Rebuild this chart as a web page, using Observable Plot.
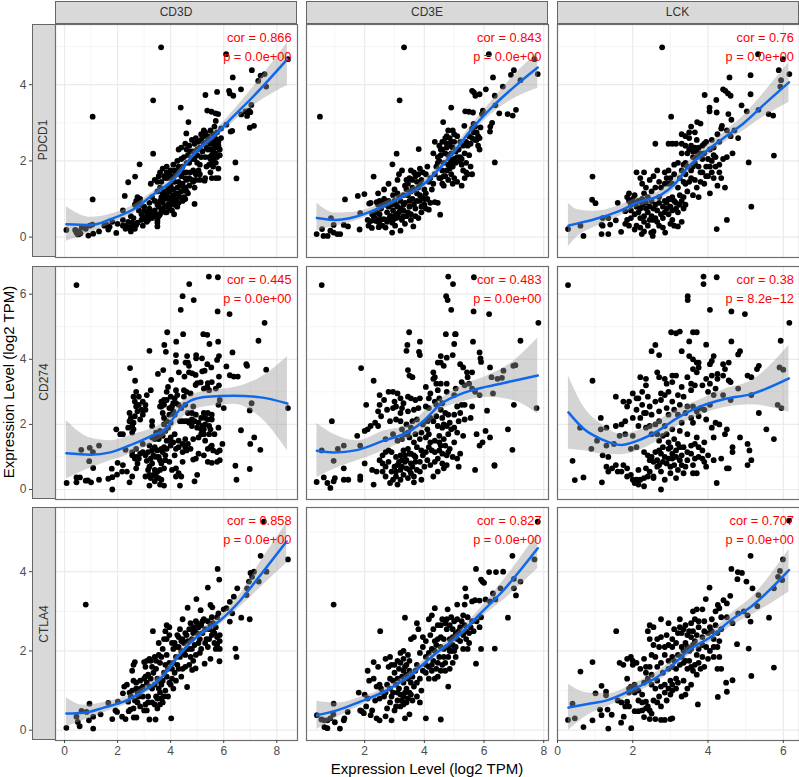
<!DOCTYPE html>
<html><head><meta charset="utf-8">
<script src="https://cdn.jsdelivr.net/npm/d3@7"></script>
<script src="https://cdn.jsdelivr.net/npm/@observablehq/plot@0.6"></script>
<style>
html,body{margin:0;padding:0;background:#fff;overflow:hidden}
#chart{position:relative;width:799px;height:777px;font-family:"Liberation Sans",Arial,sans-serif}
.strip{position:absolute;box-sizing:border-box;background:#d9d9d9;border:1.2px solid #666;color:#333;font-size:12px;display:flex;align-items:center;justify-content:center}
.strip.side span{transform:rotate(-90deg);white-space:nowrap}
.title{position:absolute;font-size:15px;color:#000;white-space:nowrap}
</style></head><body><div id="chart"></div>
<script>
const columnGenes = ["CD3D","CD3E","LCK"];
const rowGenes = ["PDCD1","CD274","CTLA4"];
const corLabels = ["cor = 0.866","cor = 0.843","cor = 0.76","cor = 0.445","cor = 0.483","cor = 0.38","cor = 0.858","cor = 0.827","cor = 0.707"];
const pLabels = ["p = 0.0e+00","p = 0.0e+00","p = 0.0e+00","p = 0.0e+00","p = 0.0e+00","p = 8.2e\u221212","p = 0.0e+00","p = 0.0e+00","p = 0.0e+00"];

const xDomains = [[-0.34,8.78],[0.05,8.16],[0,6.43]];
const yDomains = [[-0.535,5.58],[-0.307,6.85],[-0.26,5.62]];
const xTicks = [[0,2,4,6,8],[2,4,6,8],[0,2,4,6]];
const xMinor = [[1,3,5,7],[1,3,5,7],[1,3,5]];
const yTicks = [[0,2,4],[0,2,4,6],[0,2,4]];
const yMinor = [[1,3,5],[1,3,5],[1,3,5]];

// scatter points: [x, y]
const pdcd1Cd3d = [[3.64,4.98],[6.09,4.8],[8.42,4.67],[7.06,4.38],[6.34,4.19],[7.39,4.24],[7.54,4.28],[7.3,4.1],[7.6,3.95],[3.34,3.59],[1.06,3.16],[1.06,.99],[4.38,3.4],[5.75,3.81],[5.31,3.73],[6.2,3.84],[6.23,3.77],[6.36,3.71],[6.65,3.88],[5.38,3.32],[5.54,3.29],[5.69,3.25],[5.79,3.23],[7.04,3.47],[6.95,3.32],[6.82,3.3],[6.66,3.22],[6.88,3.18],[7.0,3.28],[7.14,2.92],[6.98,2.87],[6.32,2.79],[6.26,2.77],[6.44,1.96],[6.48,1.54],[4.9,.87],[3.34,2.19],[2.83,1.91],[2.66,1.59],[2.4,1.44],[2.27,1.08],[4.13,.6],[4.67,3.02],[4.59,2.72],[5.28,1.48],
[.07,.19],[.4,.19],[.45,.12],[.5,.07],[.55,.08],[.6,.1],[.45,.17],[.9,.04],[1.08,.09],[.8,.22],[.95,.3],[1.05,.33],[1.3,.15],[1.65,.2],[1.7,.27],[1.95,.11],[1.8,.4],[2,.35],[2.2,.3],[2.3,.22],[2.35,.3],[2.45,.25],[2.5,.15],[2.6,.3],[2.7,.32],[2.65,.22],[2.75,.38],[2.9,.45],[3.1,.4],[3.1,.55],[3.15,.45],[3.3,.5],[3.5,.28],[3.5,.38],[3.5,.44],[3.55,.55],[2.2,.7],[2.5,.55],[2.6,.5],[2.8,.7],[2.85,.85],[2.7,.95],[2.65,.85],[2.75,1.05],[2.85,1],[3,.8],[3,.7],[3.1,.65],[3.2,.75],[3.2,.9],[3.3,.65],[3.3,1.05],[3.4,.95],[3.4,.7],[3.5,.85],[3.5,1.2],[3.5,1.45],[3.25,1.4],[3.4,1.5],[3.6,1.3],[3.65,.7],[3.7,.9],[3.7,1.15],[3.75,1],[3.8,.8],[3.85,.65],[3.9,1],[3.95,.75],[3.95,1.2],[4,1.35],[4.05,.95],[4.1,1.1],[4.15,.85],[4.2,1.15],[4.25,1.3],[4.3,.9],[4.35,1.05],[4.4,1.2],[4.45,1.4],[4.5,1.05],[3.6,1.7],[3.7,1.8],[3.8,1.55],[3.85,1.85],[3.95,1.65],[4,1.75],[4.05,1.55],[4.1,1.9],[4.2,1.65],[4.25,2],[4.3,1.45],[4.35,1.75],[4.4,1.6],[4.4,2.05],[4.5,1.7],[4.55,1.3],[4.6,1.5],[4.65,1.15],[4.7,1.35],[4.7,1.95],[4.75,1.7],[4.8,1.5],[4.85,1.75],[4.9,1.3],[4.95,1.65],[5,1.95],[5.1,1.5],[5.15,2.1],[4.5,2.1],[4.4,2.35],[4.3,2.3],[4.55,2.45],[4.7,2.4],[4.85,2.25],[4.9,2.45],[4.95,2.6],[5,2.15],[5.1,2.35],[5.15,2.55],[5.25,2.65],[5.3,2.75],[5.35,2.5],[5.4,2.3],[5.45,2.1],[5.5,2.45],[5.55,1.95],[5.6,2.25],[5.65,2.65],[5.7,2.35],[5.75,2.1],[5.8,2.5],[5.85,2.3],[5.9,2.6],[5.9,2.85],[5.7,3.05],[5.65,2.9],[5.5,2.8],[5.35,1.85],[5.5,1.7],[5.55,1.55],[5.7,1.55],[5.8,1.55],[5.8,1.8],[5.3,1.55],[5.1,1.65],[6.1,2.95],
[2.9,.6],[2.95,.5],[3.05,.5],[3.15,.6],[3.25,.55],[3.35,.55],[3.45,.6],[3.6,.6],[3.7,.75],[3.8,.65],[3.9,.85],[4,.85],[4.05,.7],[4.15,.95],[3.55,.8],[3.6,.95],[3.65,1.05],[3.75,1.2],[3.85,1.1],[3.9,1.3],[4,1.05],[4.1,1.25],[4.2,1],[4.25,.8],[4.3,1.15],[4.45,.95],[4.55,1],[4.6,1.2],[4.5,1.25],[4.35,1.35],[4.15,1.45],[4.05,1.6],[3.9,1.55],[3.75,1.6],[3.65,1.45],[3.55,1.6],[3.85,1.7],[4.15,1.75],[4.3,1.85],[4.45,1.85],[4.55,1.55],[4.6,1.7],[4.6,1.95],[4.7,1.55],[4.85,1.45],[4.95,1.5],[5.05,1.75],[5.1,1.9],[4.65,2.15],[4.75,2.25],[4.8,2.05],[4.9,2.05],[5,2.3],[5.05,2.5],[5.2,2.25],[5.25,2.45],[5.3,2.1],[5.35,2.35],[5.45,2.55],[5.5,2.3],[5.55,2.15],[5.6,2.5],[5.6,2.05],[5.65,2.4],[5.7,2.2],[5.75,2.55],[5.8,2.4],[5.85,2.15],[5.45,1.9],[5.5,2.05],[5.6,1.85],[5.7,1.95],[5.25,2.8],[5.15,2.7],[5.4,2.65],[5.6,2.7],[5.75,2.75],[4.6,2.3],[4.8,2.55],[2.95,.3],[2.4,.4],[2.2,.45],[2.55,.38],[1.5,.3],[1.6,.32],[.5,.13],[.55,.13],[.65,.25]];

const pdcd1Cd3e = [[3.32,4.98],[6.16,4.8],[7.69,4.67],[7.8,4.28],[7,4.38],[6.9,4.26],[7.22,4.12],[6.3,4.19],[6.63,3.95],[6.06,3.88],[5.6,3.84],[5.66,3.8],[5.71,3.71],[5.85,3.75],[6.36,3.71],[3.17,3.59],[.5,3.16],[4.9,3.4],[6.38,3.46],[5.96,3.32],[5.93,3.23],[5.37,3.3],[5.49,3.29],[5.63,3.27],[6.51,3.25],[6.79,3.23],[6.96,3.19],[7.07,3.34],[4.63,3.02],[5.34,2.92],[5.65,2.97],[6.27,3],[6.21,2.9],[6.2,2.77],[6.36,1.96],[5.88,2.88],[5.75,2.75],[5.85,2.6],[5.8,2.65],[3.81,2.31],[3.07,2.19],[2.93,1.91],[2.3,1.59],[1.77,1.08],[1.99,1.13],[1.34,.99],[4.53,.59],[3.63,.28],
[.39,.08],[.57,.21],[.62,.03],[.76,.03],[.85,.17],[.96,.12],[1.08,.08],[1.18,.08],[.87,.5],[.96,.32],[1.3,.32],[1.44,.28],[1.85,.63],[1.83,.2],[2.13,.3],[2.24,.24],[2.47,.26],[2.53,.47],[2.36,.43],[2.64,.47],[2.92,.12],[3.2,.17],[3.02,.3],[2.92,.38],[3.13,.52],[2.8,.47],[2.2,.42],[2.3,.55],[2.4,.65],[2.5,.6],[2.55,.75],[2.6,.88],[2.65,1],[2.45,.85],[2.4,.92],[2.2,.9],[2.15,.88],[2.75,.65],[2.8,.8],[2.9,.55],[2.95,.7],[3,.95],[3.05,.6],[3.1,.8],[3.15,1.05],[3.25,.45],[3.3,.7],[3.35,.9],[3.4,.55],[3.45,1.1],[3.5,.8],[3.55,.6],[3.6,1],[3.7,.75],[3.75,1.15],[3.8,.5],[3.85,.95],[3.9,.65],[3.95,1.05],[4,.85],[4.05,.75],[4.1,1],[4.15,.72],[4.2,.9],[4.35,.92],[4.45,.9],[2.45,1.15],[2.65,1.25],[2.8,1.4],[3,1.25],[3.1,1.5],[3.15,1.65],[3.25,1.75],[3.35,1.35],[3.45,1.4],[3.5,1.55],[3.55,1.75],[3.6,1.3],[3.7,1.6],[3.75,1.45],[3.8,1.3],[3.9,1.5],[3.95,1.7],[4,1.25],[4.05,1.65],[4.1,1.85],[4.3,1.4],[4.35,1.65],[4.4,1.85],[4.45,1.95],[4.5,2],[4.55,2.15],[4.6,1.75],[4.65,1.95],[4.7,2.2],[4.75,2.45],[4.3,2.2],[4.35,2.5],[4.8,1.5],[4.9,1.65],[4.95,1.4],[5,1.55],[5.1,1.45],[5.25,1.35],[5.35,1.55],[5.4,1.7],[5.45,1.65],[5.55,1.85],[5.6,1.65],[4.8,1.9],[4.85,2.05],[4.9,2.2],[4.95,2.35],[5,2.5],[5,2.7],[4.75,2.65],[4.8,2.8],[4.85,2.6],[5.05,1.95],[5.1,2.1],[5.15,2.3],[5.2,2.5],[5.25,2.05],[5.35,2.2],[5.4,1.95],[5.45,2.4],[5.5,2.15],[5.3,2.4],[4.6,2.3],[4.5,2.4],[5.55,2.45],[5.6,2.6],[5.65,2.75],[5.7,2.55],[4.55,1.55],[4.7,1.6],[4.65,1.35],[4.2,1.55],
[2.1,.45],[2.25,.6],[2.35,.5],[2.45,.4],[2.5,.35],[2.6,.3],[2.7,.25],[2.75,.4],[2.85,.55],[2.95,.45],[3.05,.5],[3.15,.65],[3.2,.75],[3.3,.55],[3.35,.35],[3.45,.65],[3.5,.95],[3.55,.45],[3.65,.85],[3.7,.55],[3.75,.95],[3.85,1.1],[3.9,.8],[4,1],[4.05,1.15],[3.3,.85],[3.2,.95],[3.05,.85],[2.9,.85],[2.7,.85],[2.8,.95],[2.5,.95],[2.55,.85],[2.95,1.1],[3.1,1.15],[3.3,1.1],[3.4,1.25],[3.55,1.2],[3.65,1.25],[3.85,1.4],[3.4,1.5],[3.6,1.5],[3.65,1.7],[3.8,1.65],[3.85,1.8],[4.15,1.45],[4.25,1.25],[4.5,1.55],[4.6,1.4],[4.65,1.6],[4.75,1.75],[4.85,1.8],[4.9,1.95],[4.95,1.85],[5,2.05],[5.05,2.25],[5.15,2],[4.45,2.1],[4.55,2.3],[4.6,2.5],[4.7,2.6],[4.75,2.35],[4.8,2.15],[4.85,2.4],[4.9,2.5],[4.95,2.8],[5.1,2.65],[5.2,2.1],[5.25,1.9],[5.3,1.75],[5.4,2.5],[5.5,2.65],[5.6,2.85],[5.7,2.9],[5.75,2.55],[5.8,2.4],[5.85,2.3]];

const pdcd1Lck = [[2.78,4.98],[5.33,4.8],[5.99,4.67],[5.88,4.38],[6.16,4.28],[5.94,4.12],[5.92,3.95],[5.13,4.25],[4.57,4.19],[5.13,3.75],[4.4,3.88],[4.46,3.84],[4.53,3.77],[4.6,3.71],[3.91,3.73],[4.22,3.6],[4.89,3.46],[4.04,3.4],[4.04,3.3],[4.23,3.27],[4.54,3.23],[5.03,3.3],[5.34,3.34],[5.61,3.23],[5.73,3.19],[3.02,3.16],[4.62,3.08],[3.71,3.02],[3.8,2.98],[4.37,2.92],[5.75,2.14],[5.08,1.96],[5.15,.8],[4.5,.45],[4.23,.21],[.93,1.59],[.92,.98],[1.01,.89],[.28,.21],[.69,.03],[.61,.3],[1.17,.08],[1.35,.08],[1.69,.14],[2.24,.08],[2.53,.03],[2.49,.12],[2.86,.12],[1.17,.33],[1.2,.5],[1.35,.5],[1.2,.3],[1.4,.33],[1.55,.44],[1.6,.9],[1.8,.68],[1.85,.45],[1.9,.3],[1.95,.5],[1.8,.35],[2.05,.2],[2.1,.3],[2.2,.25],[2.3,.15],[2.4,.3],[2.55,.15],[2.7,.3],[2.8,.25],[3,.35],[3.1,.3],[3.2,.28],[3.3,.4],[3.05,.45],[2.8,.5],[2.6,.5],[2.5,.55],[2.4,.65],[2.3,.55],[2.2,.5],[2.05,.6],[1.95,.7],[2.1,.8],[1.9,1.15],[1.85,1.05],[2,1],[2.05,1.1],[2.15,.95],[2.25,1],[2.35,.9],[2.45,.8],[2.55,.75],[2.65,.7],[2.7,.9],[2.75,.6],[2.85,.95],[2.9,.75],[2.95,1],[3,.8],[3.05,1.05],[3.15,.9],[3.2,.65],[3.25,1.1],[3.35,1.05],[3.4,.85],[2.1,1.7],[2.2,1.55],[2.3,1.7],[2.25,1.4],[2.35,1.3],[2.45,1.5],[2.5,1.2],[2.55,1.6],[2.65,1.75],[2.7,1.45],[2.75,1.3],[2.9,1.55],[2.95,1.75],[3.05,1.4],[3.1,1.65],[3.2,1.3],[3.25,1.55],[3.35,1.9],[3.4,1.65],[3.45,1.2],[3.5,1.45],[3.55,1.75],[3.6,1.1],[3.65,1.5],[3.7,1.3],[3.75,1.05],[3.8,1.45],[3.85,1.7],[3.9,1.4],[3.95,1.85],[4,1.6],[4.05,1.15],[4.15,1.55],[4.25,1.35],[4.3,1.7],[4.35,1.55],[4.4,2.05],[4.45,1.3],[4.5,2.1],[4.65,2.2],[4.1,2],[4.2,2.1],[4.15,2.35],[4.3,2.5],[4.25,2.7],[4.05,2.3],[3.9,2.45],[3.8,2.2],[3.75,2.35],[3.7,2.55],[3.6,2.1],[3.55,2.4],[3.5,2.6],[3.45,2.2],[3.4,1.95],[3.3,2.45],[3.15,2.45],[3.05,2.45],[2.95,2.45],[2.6,2.45],[3.5,2.75],[3.65,2.75],[3.55,2.9],[3.4,2.65],[3.3,2.7],[4.6,2.65],[4.8,2.6],[4.35,2.85],[4.5,2.8],[4.7,2.8],
[1.9,.95],[1.95,.85],[2.05,.9],[2.2,.75],[2.25,.85],[2.35,.75],[2.4,1.05],[2.5,.95],[2.55,.45],[2.6,.85],[2.65,.4],[2.7,1.05],[2.8,.8],[2.85,.65],[2.9,.9],[2.95,.6],[3,1],[3.05,.7],[3.1,.95],[3.15,.75],[3.25,.85],[3.3,.95],[3.35,.75],[2.15,.65],[2.3,.4],[2.45,.45],[2.3,1.15],[2.6,1.3],[2.85,1.4],[3,1.55],[3.35,1.45],[3.3,1.75],[3.4,1.4],[3.45,1.85],[3.55,1.55],[3.6,1.85],[3.65,1.95],[3.7,2.1],[3.75,1.85],[3.8,1.7],[3.85,2.05],[3.9,2.2],[3.95,1.6],[4,2.05],[4.05,1.85],[4.1,1.7],[4.15,2.15],[4.2,1.85],[4.3,1.9],[3.6,2.25],[3.65,2.35],[3.7,2.25],[3.85,2.4],[3.95,2.5],[3.5,2.3],[3.4,2.4],[3.3,2.2],[4.1,2.55],[3.2,1.95],[3.1,1.9],[2.95,1.4],[2.85,1.7]];

const cd274Cd3d = [[.45,6.28],[5.44,6.54],[5.78,6.52],[4.7,6.31],[4.45,5.94],[4.87,5.82],[4.38,5.52],[5.77,5.47],[6.22,5.39],[7.54,5.12],[7.31,4.57],[3.87,4.83],[4.47,4.77],[5.23,4.77],[5.38,4.75],[4.21,4.54],[3.76,4.44],[5.46,4.47],[5.79,4.54],[3.2,4.26],[3.82,4.23],[4.2,4.13],[6.33,4.21],[4.62,4.1],[4.96,4.13],[4.96,4.03],[5.18,4.03],[5.82,4.1],[5.75,3.98],[4.2,3.92],[4.56,3.9],[4.65,3.9],[4.69,3.8],[6.85,3.85],[6.88,3.8],[5.38,3.85],[5.53,3.75],[6.1,3.78],[7.6,3.68],[2.47,3.73],[3.72,3.67],[3.52,3.55],[4.31,3.6],[4.69,3.6],[4.81,3.57],[4.94,3.52],[5.19,3.63],[5.28,3.65],[5.82,3.47],[4.52,3.47],[4.02,3.37],[2.66,3.34],[6.23,3.51],[6.38,3.47],[6.53,3.47],[5,3.27],[5.13,3.29],[4.94,3.21],[5.4,3.27],[5.55,3.3],[5.38,3.15],[5.82,3.2],[5.7,3.1],[3.9,3.15],[3.85,3],[3.25,3.05],[3.1,2.9],[2.7,3],[2.6,2.85],[2.65,2.7],[2.8,2.6],[2.95,2.7],[3.05,2.6],[2.9,2.45],[3.05,2.45],[2.75,2.4],[2.65,2.25],[2.5,2.2],[2.45,2.1],[2.85,2.15],[2.95,2.3],[3.3,2.1],[2.55,1.95],[2.6,1.85],[2.55,1.75],[2.4,1.9],[3.65,2.7],[3.75,2.6],[3.85,2.75],[3.95,2.5],[4,2.85],[4.15,2.8],[4.25,2.9],[3.6,2.55],[3.7,2.35],[3.75,2.2],[3.85,2.1],[3.95,2.3],[4.1,2.4],[4.3,2.6],[4.4,2.5],[4.5,2.85],[4.75,2.95],[4.85,2.55],[4.8,2.35],[4.8,2.15],[4.7,2.05],[4.55,2.1],[4.45,2.1],[4.35,2.1],[4.8,1.95],[5,1.9],[5.15,1.85],[5.3,2.2],[5.3,2],[5.4,2.35],[5.5,1.85],[5.55,2.3],[5.55,2.15],[5.65,1.7],[5.45,1.7],[5.25,1.7],[5.8,1.9],[5.8,2.6],[5.85,2.75],[6,2.5],[6.65,1.82],[7,1.4],[7.15,1.6],[6.98,2.43],[7.05,2.65],[8.42,2.5],[7.38,1.22],[6.98,.63],[6.44,.73],[6.48,.3],[3.3,1.95],[3.45,1.75],[3.55,1.55],[3.7,1.65],[3.85,1.5],[4,1.6],[4.15,1.7],[4.3,1.5],[4.55,1.55],[4.65,1.4],[4.85,1.55],[4.75,1.25],[4.45,1.15],[4.15,1.05],[4,1.35],[3.85,1.25],[3.7,1.15],[3.5,1.2],[3.35,1.05],[3.2,1.35],[2.95,1.4],[2.7,1.25],[2.85,1.1],[2.7,1],[2.55,1.15],[2.3,1.22],[2.2,1.7],[2.1,1.7],[1.95,1.85],[1.3,1.35],[.95,1.28],[.63,1.22],[1.07,1.15],[.93,.87],[1.08,.66],[.88,.28],[1,.22],[.8,.27],[.45,.37],[.45,.22],[.08,.2],[.58,.37],[1.3,.3],[1.65,.33],[1.8,.38],[1.98,.46],[2.17,.55],[1.78,.64],[2,.82],[2.2,.75],[2.35,.55],[2.45,.22],[2.55,.4],[1.8,0],[2.75,.8],[2.7,.65],[3.1,.88],[3.15,.6],[3.2,.45],[3.05,.4],[3.25,.35],[3.2,.12],[3.4,.25],[3.6,.15],[3.75,.12],[3.5,.55],[3.65,.8],[3.8,.9],[3.95,.85],[4.05,.6],[4.2,.65],[4.3,.5],[4.2,.4],[4.45,.85],[4.4,.4],[4.35,.12],[4.85,.92],[4.95,.95],[4.9,.25],[5,.45],[5.4,.85],[5.55,.82],[5.75,.85],[5.85,.9],[5.05,1.1],[5.25,1.05],[5.6,1.2],[5.75,1.15],[5.95,1.4],[5.85,1.2],
[2.55,1.05],[2.65,.95],[2.8,.95],[2.95,1.15],[3.05,1.05],[3.15,1.15],[3.25,.95],[3.3,1.2],[3.4,1.3],[3.45,1],[3.55,1],[3.6,.9],[3.65,1.25],[3.75,1.3],[3.4,.6],[3.3,.8],[3.2,.7],[3.35,.45],[3.45,.4],[3.55,.35],[3.65,.3],[3.6,.6],[3.75,.65],[3.8,1.05],[3.95,1.5],[4.1,1.45],[4.2,1.25],[4.3,1.3],[4.45,1.4],[4.55,1.3],[4.6,1.2],[3.4,1.55],[3.3,1.6],[3.5,1.65],[3.6,1.8],[3.8,1.8],[3.9,1.9],[3.75,2],[4,2.05],[4.05,2.55],[4.2,2.65],[4.1,2.65],[3.75,2.75],[3.65,2.55],[4.55,2.6],[4.65,2.35],[4.65,2.1],[4.9,2.1],[4.95,2.3],[5.05,2.05],[5.2,1.95],[5.15,2.2],[5.25,2.35],[5.4,2.15],[5.45,1.95],[5.25,3.1],[5.45,3.05],[4.5,3.05],[4.6,3],[4.2,3.05],[4.15,2.3],[5.15,1.7],[5.05,1.6],[5.3,1.5],[5.55,1.35],[5.5,1.3],[5.4,1.25],[5.25,1.85],[2.8,2.85],[2.7,2.55],[2.45,2.35],[2.6,2.05]];

const cd274Cd3e = [[.56,6.28],[4.8,6.54],[5.66,6.52],[4.96,6.31],[4.73,5.94],[4.78,5.82],[4.9,5.52],[5.65,5.47],[6.17,5.39],[7.82,5.12],[7.22,4.57],[3.49,4.83],[4.72,4.77],[5.03,4.77],[5.05,4.77],[3.85,4.54],[3.43,4.44],[5,4.47],[5.63,4.54],[3.4,4.26],[3.82,4.23],[3.85,4.13],[5.85,4.21],[4.55,4.1],[4.75,4.05],[4.95,4.13],[5.88,4.03],[5.9,3.92],[4.45,3.9],[4.55,3.9],[4.65,3.8],[5.2,3.85],[5.3,3.75],[5.43,3.6],[6.2,3.75],[6.65,3.65],[6.98,3.8],[7.05,3.82],[1.88,3.73],[3.45,3.67],[3.5,3.5],[3.6,3.45],[4.3,3.6],[4.35,3.45],[4.4,3.25],[4.55,3.25],[5.6,3.6],[5.45,3.45],[5.5,3.25],[5.25,3.3],[5.35,3.2],[6.25,3.45],[6.45,3.4],[6.6,3.43],[2.3,3.34],[4.05,3.15],[4.75,3.25],[5.6,3.1],[5.7,3],[5.85,2.9],[6.3,2.95],[7.76,2.5],[2.8,3],[2.95,3],[2.5,2.9],[2.65,2.75],[2.5,2.6],[2.45,2.4],[3.1,2.95],[3.2,2.8],[3.3,2.65],[3,2.7],[3.25,2.5],[3.45,2.4],[3.55,2.8],[3.7,2.75],[3.85,2.8],[3.8,2.5],[3.65,2.45],[4.15,2.8],[4.35,2.7],[4.15,2.5],[4.05,2.55],[5,2.9],[5.1,2.55],[5.35,2.6],[5.6,2.55],[6.1,2.42],[7,2.6],[2.05,2.6],[.9,2.1],[2.55,2.25],[2.35,2.05],[2.45,1.95],[2.2,1.95],[2.1,1.85],[2,1.8],[1.75,1.65],[1.85,1.35],[1.3,1.35],[1.1,1.25],[.56,1.2],[.96,.88],[1.3,.65],[.39,.23],[.63,.37],[.75,.2],[.85,.05],[.96,.25],[1,.35],[1.3,.3],[1.45,.3],[1.85,.3],[1.85,.4],[2,.8],[2.3,.15],[2.25,.6],[2.4,.55],[2.6,.55],[2.7,.7],[2.7,.4],[2.85,.2],[2.95,.3],[3.1,.15],[3.05,.4],[3.2,.6],[3.3,.45],[3.5,.6],[3.65,.22],[3.85,.55],[3.9,.3],[4.3,.4],[4.35,.85],[4.45,.55],[4.6,.8],[4.75,.75],[5.15,.7],[5.1,.95],[5.7,.6],[6.35,.73],[2.6,1.05],[2.8,.85],[2.9,1.15],[3.05,1],[3.15,.85],[3.2,1.05],[3.3,1.2],[3.4,.9],[3.5,1.1],[3.55,.8],[3.7,1],[3.85,.85],[4.05,1.15],[4.15,1.3],[4.25,1.2],[4.35,1.15],[4.5,1.2],[4.6,1.1],[4.75,1.05],[4.85,1.25],[5,1.45],[5.2,1.1],[2.7,1.55],[2.95,1.7],[3.1,1.5],[3.25,1.55],[3.35,1.7],[3.5,1.6],[3.65,1.45],[3.85,1.55],[4.05,1.6],[4.2,1.45],[4.5,1.65],[4.65,1.55],[4.8,1.7],[5,1.9],[5.1,1.75],[5.3,1.65],[3.05,2.15],[3.2,2.1],[3.4,2],[3.6,2.1],[4.1,2.1],[4.3,2.1],[4.45,1.95],[4.6,2.2],[4.8,2.3],[5,2.3],[5.2,2.35],[5.35,2.15],[5.55,2.2],[4.6,1.9],[4.75,1.95],[4.65,2],[5.75,1.7],[6.05,1.8],[6.2,1.6],[5.85,1.35],[5.95,1.45],[6.8,1.85],[6.95,1.22],[6.35,.75],
[2.5,.9],[2.6,.8],[2.7,1.15],[2.8,1.2],[2.9,.55],[3,.7],[3.05,.55],[3.1,.75],[3.2,.3],[3.25,.7],[3.35,.85],[3.4,.65],[3.45,.35],[3.55,.5],[3.6,.7],[3.65,.4],[3.7,.85],[3.75,.6],[3.25,.9],[3.35,1.05],[3.45,1.25],[3.55,1.1],[3.65,1.05],[3.75,1.3],[3.9,1.2],[3.95,1.05],[4,.7],[4.2,.75],[4.1,.9],[4.45,.95],[4.55,1.35],[4.65,.65],[4.7,1.35],[4.8,1.15],[4.95,1],[4.5,1.45],[4.35,1.5],[4.1,1.85],[3.9,1.75],[3.7,1.7],[3.45,1.75],[3.25,1.85],[3.55,1.9],[3.75,2.15],[3.95,2],[4.2,2.2],[4.4,2.25],[4.15,1.7],[4.55,2.45],[4.7,2.35],[4.85,2.05],[4.9,1.85],[5.15,2.1],[5.25,2.6],[4.4,2.6],[4.6,2.65],[4.5,2.8],[4.2,2.95],[4.45,3.05],[4.75,3],[4.3,3.4],[5.05,3.1],[3.2,2.35],[3.05,2.55],[2.95,2.5],[2.75,2.45],[2.85,2.1],[3.45,2.85]];

const cd274Lck = [[.28,6.28],[3.88,6.54],[4.23,6.52],[3.88,6.31],[3.46,5.94],[3.46,5.82],[4.05,5.52],[4.62,5.47],[4.98,5.39],[6.16,5.12],[5.93,4.57],[3.02,4.83],[3.15,4.8],[3.25,4.85],[3.6,4.83],[3.7,4.83],[4.62,4.55],[3.5,4.55],[2.6,4.44],[3.95,4.45],[2.5,4.25],[3.3,4.25],[4.85,4.25],[4.8,4.15],[2.7,4.13],[3.5,4.1],[3.6,4],[3.75,3.9],[4.15,4.1],[4.1,3.95],[4.05,3.85],[3.6,3.7],[3.7,3.6],[4.4,3.85],[4.55,3.9],[5.35,3.8],[5.3,3.7],[5.9,3.75],[6,3.68],[2.65,3.6],[2.7,3.45],[2.85,3.4],[3.05,3.5],[3.15,3.5],[4.1,3.5],[4.25,3.55],[4.45,3.7],[4.4,3.5],[4.55,3.35],[4.6,3.3],[5.05,3.5],[5.15,3.45],[.93,3.34],[2.2,3.45],[2.35,3.4],[2.9,3.25],[3.05,3.3],[3.3,3.15],[3.65,3.2],[3.55,3.05],[3.85,3.2],[4,3],[4.05,3.25],[4.2,3.1],[4.4,2.9],[4.6,2.75],[4.8,3.1],[2.35,3.2],[2,2.95],[2.15,2.8],[2.4,2.85],[2.25,2.6],[2.75,2.75],[2.85,2.9],[2.95,3],[1.55,2.85],[1.75,2.7],[1.9,2.7],[1.85,2.55],[2.1,2.45],[2.35,2.35],[2.5,2.3],[2.7,2.4],[2.9,2.5],[3.1,2.45],[3.2,2.3],[3.4,2.35],[3.55,2.2],[3.75,2.25],[3.9,2.45],[4.05,2.6],[5.15,2.9],[5.35,2.35],[5.85,2.6],[5.95,2.5],[1.15,2.2],[1.3,1.9],[1.55,1.95],[1.7,2],[1.8,2.1],[2,2.2],[.6,1.9],[1.15,1.85],[2.35,1.9],[2.15,1.95],[2.5,1.7],[2.85,1.95],[3.05,1.85],[3.25,1.8],[3.3,2.05],[3.6,2.05],[3.95,2.15],[4.1,1.9],[4.2,2.05],[4.3,2],[4.5,1.85],[4.45,1.7],[4.15,1.6],[3.9,1.45],[3.7,1.6],[3.45,1.7],[1.8,1.7],[2,1.65],[1.65,1.65],[1.05,1.5],[.9,1.25],[1.3,1.35],[1.5,1.4],[2.7,1.5],[2.8,1.65],[3.1,1.55],[3.2,1.4],[3.35,1.3],[3.55,1.35],[3.65,1.4],[3.75,1.3],[3.85,1.2],[4,1.05],[4.15,.9],[4.65,1.15],[4.85,1.6],[4.65,1.3],[5.05,1.4],[5.1,1.2],[5.55,1.85],[5.75,1.55],[2.1,1.3],[1.95,1.25],[2.3,1.15],[2.6,1.15],[2.4,1.05],[2.75,1.1],[2.95,1.25],[2.85,1],[3.05,1.1],[3.15,1],[3.3,1.05],[3.45,.9],[3.75,1],[3.6,.75],[4.35,.95],[4.55,.65],[5.05,.75],[5.15,.9],[1.2,1.05],[1.35,1],[.4,.88],[1.55,.75],[1.75,.75],[1.6,.55],[1.35,.55],[1.45,.65],[1.85,.65],[2.15,.6],[2.35,.65],[2.55,.4],[2.45,.55],[2.75,.55],[3,.5],[3.3,.75],[3.15,.35],[3.35,.5],[3.6,.5],[3.7,.5],[.46,.29],[.69,.37],[1.18,.22],[1.85,.4],[2,.3],[2.15,.15],[2.3,.1],[2.1,.3],[1.3,.7],[2.55,.35],[2.85,.3],[2.75,0],[4.23,.2],[4.5,.65],
[1.7,.55],[1.95,.45],[2.05,.2],[2.2,.3],[2.3,.35],[2.4,.4],[2.65,.7],[2.55,.85],[2.45,.9],[2.5,1],[2.65,.9],[2.7,.75],[2.9,.8],[3,.7],[3.05,.95],[2.95,.95],[2.8,.85],[3.1,.75],[3.2,.6],[3.25,.9],[3.4,.7],[3.45,1.15],[3.55,1.1],[3.65,.95],[3.85,.95],[3.9,.85],[3.95,.7],[2.8,1.3],[2.7,1.2],[2.95,1.45],[3,1.3],[3.15,1.2],[3.25,1.3],[2.9,1.7],[2.65,1.7],[2.45,1.95],[2.6,2],[2.7,2.1],[2.2,2.2],[2.3,2.35],[2.1,2.8],[2.25,3],[2.45,2.55],[2.6,2.7],[2.75,2.95],[2.95,2.3],[3.05,2.7],[3.2,2.9],[3.25,2.6],[3.35,2.85],[3.45,3.45],[3.6,2.55],[3.7,2.4],[3.45,2.55],[3.8,2.5],[4.15,2.9],[4.25,3.4],[3.95,3.4],[3.7,3.9],[3.75,3.75],[3.55,3.25]];

const ctla4Cd3d = [[7.51,5.26],[8.42,4.31],[7.39,4.4],[7.61,4],[7.01,3.97],[7.14,4],[7.32,3.75],[6.95,3.75],[7.07,3.87],[5.77,4.07],[5.83,3.8],[5.4,3.6],[6.51,3.58],[6.88,3.58],[6.86,3.41],[.8,3.17],[4.97,3.31],[6.38,3.37],[6.23,3.24],[6.32,2.95],[6.66,2.84],[6.98,2.8],[6.23,2.74],[4.64,3.09],[5.13,3.03],[5.5,3.16],[5.57,3.1],[6.44,2.06],[6.48,1.85],[5.84,1.74],[5.5,1.8],[5.28,1.68],[4.94,1.56],[4.81,1.52],[4.62,1.09],[4.02,.3],[3.33,2.5],[.07,.06],[1.08,.04],[.57,.1],[.94,.67],[.64,.49],[.83,.46],[.45,.34],[.5,.21],[.92,.25],[1.08,.34],[1.36,.4],[1.65,.69],[1.8,.28],[1.92,.5],[1.98,.46],[2.01,.72],[2.17,.34],[2.3,.28],[2.61,.32],[2.71,.32],[3.2,.27],[3.43,.27],[2.42,.48],[2.48,.52],[2.2,.93],[2.25,1.1],[2.4,.72],[2.5,.85],[2.55,1],[2.65,.75],[2.7,1.2],[2.6,1.25],[2.55,1.5],[2.6,1.65],[2.65,1.72],[2.75,.95],[2.85,.6],[2.85,1.05],[2.95,.85],[3.05,1.35],[3,.5],[3.05,.65],[3.15,.85],[3.2,1.1],[3.1,1.75],[3.2,1.8],[3,1.72],[3.3,1.6],[3.4,1.85],[3.35,1.45],[3.5,.55],[3.5,.8],[3.55,1.05],[3.55,1.25],[3.45,1.55],[3.6,.95],[3.65,1.15],[3.7,.7],[3.75,.85],[3.8,1],[3.85,1.35],[3.6,1.7],[3.65,1.85],[3.7,2.05],[3.55,2.2],[3.85,1.9],[3.95,1.7],[3.9,.85],[4,1.15],[4.05,1.3],[4.1,1.05],[4.2,1.25],[3.75,2.3],[3.8,2.5],[3.85,2.65],[3.95,2.6],[3.95,2.4],[4.1,2.05],[4.15,2.2],[4.2,1.85],[4.25,2.4],[4.3,2.1],[4.35,2.55],[4.4,2],[4.45,1.55],[4.5,2.2],[4.55,1.9],[4.55,2.45],[4.6,2.05],[4.7,1.65],[4.75,1.85],[4.8,2.3],[4.85,2.6],[4.45,2.8],[4.7,2.55],[4.75,2.7],[4.85,2.45],[4.9,2.15],[4.95,1.9],[5,2.7],[5,2.45],[5.05,2.2],[5.1,1.95],[5.15,2.65],[5.2,2.45],[5.25,2.8],[5.35,2.3],[5.4,2.1],[5.4,2.75],[5.45,2.55],[5.55,2.85],[5.6,2.5],[5.65,2.2],[5.7,2.05],[5.75,2.35],[5.85,2.4],[5.85,2.05],[5.75,2.85],[5.8,2.95],[6,3.05],[6.1,3.08],
[2.45,.95],[2.35,1.15],[2.6,.55],[2.75,.7],[2.8,.85],[2.7,1.05],[2.85,1.25],[2.95,1.1],[3,1.3],[3.1,1.2],[3.15,1.4],[3.25,1.3],[3.3,1.05],[3.1,.5],[3.15,.7],[3.3,.7],[3.4,.65],[3.45,.85],[3.4,1.15],[3.5,1.3],[3.6,.65],[3.65,.8],[3.7,1.25],[3.75,1.45],[3.8,1.65],[3.9,1.55],[3.95,1.2],[4.05,1.55],[4.1,1.7],[4.15,1.45],[4.25,1.65],[4.3,1.55],[4.35,1.85],[4.4,1.35],[4.45,2.3],[4.5,1.95],[4.55,1.6],[4.6,2.4],[4.65,2.25],[4.7,2.05],[4.8,2.05],[4.85,1.75],[4.9,2.5],[4.95,2.75],[5.05,2.6],[5.1,2.3],[5.15,2.05],[5.2,2.75],[5.3,2.55],[5.3,2.2],[5.45,2.3],[5.5,2.65],[5.55,2.4],[5.6,2.7],[5.65,2.45],[5.7,2.6],[5.75,2.15],[5.85,2.25],[4.3,2.35],[4.4,2.25],[4.2,2.1],[4.05,2.2],[3.85,2.3],[3.55,1.9],[3.45,1.75],[3.25,1.75],[3.05,1.6]];

const ctla4Cd3e = [[7.8,5.26],[7.69,4.31],[6.95,4.4],[5.73,4.07],[6.17,3.99],[6.4,3.99],[6.64,4],[5.9,3.8],[5.95,3.75],[6,3.72],[7,3.82],[7.22,3.75],[5.37,3.58],[6.55,3.58],[7,3.58],[7.07,3.4],[6.38,3.3],[6.2,3.25],[6.3,3.45],[.96,3.17],[5.4,3.37],[5.6,3.25],[5.7,3.28],[5.85,3.27],[6.05,3.3],[4.35,3.08],[4.78,3.05],[5.1,3.17],[5.35,3.17],[6.8,2.84],[3.35,2.84],[2.52,2.5],[6.36,2.06],[5.9,2.05],[5.73,1.68],[.4,.38],[.55,.27],[.65,.25],[.75,.25],[.85,.3],[.95,.4],[.96,.67],[.65,.08],[.75,.05],[1,.2],[1.17,.04],[1.43,.46],[1.32,.3],[1.3,.25],[1.85,.5],[1.9,.48],[1.97,.43],[2.05,.6],[1.8,.95],[2,.9],[2.1,.8],[2.2,.38],[2.25,.5],[2.4,.3],[2.5,.25],[2.7,.35],[2.9,.25],[3.35,.3],[4.05,.3],[4.55,.27],[2.1,1.5],[2.15,1.25],[2.3,1.3],[2.3,1.72],[2.45,1.6],[2.4,1.1],[2.5,1.15],[2.6,.95],[2.65,.85],[2.75,.55],[2.85,.7],[2.9,.85],[3,.5],[3.1,.75],[3.2,.9],[3.2,.6],[3.3,.65],[3.4,1.05],[3.5,.4],[3.6,.75],[3.75,.85],[3.85,.7],[3.9,1],[2.7,1.8],[2.85,1.85],[2.9,1.65],[2.85,1.3],[3,1.45],[3.05,1.15],[3.1,1.75],[3.2,1.7],[3.3,1.5],[3.3,1.2],[3.4,1.65],[3.45,1.3],[3.55,1.2],[3.65,1.1],[3.75,1.2],[3.85,1.3],[4.05,1.45],[4.15,1.6],[4.35,1.3],[4.45,1.35],[4.8,1.1],[3.2,1.95],[3.3,2],[3.45,1.9],[3.55,2.3],[3.65,2.35],[3.8,2.55],[3.75,2.7],[3.85,1.95],[3.95,2.1],[4.05,1.85],[4.15,1.95],[4.3,1.75],[4.35,2],[4.4,1.55],[4.55,1.5],[4.7,1.5],[4.85,1.55],[4.95,1.7],[5.05,1.85],[4.65,1.85],[4.55,2.1],[4.45,2.3],[4.3,2.55],[4.15,2.8],[4.25,2.9],[4.45,2.65],[4.6,2.8],[4.75,2.55],[4.85,2.3],[4.95,2.15],[4.75,2.1],[4.85,2],[5.05,2.1],[5.2,2.25],[5.3,2.05],[5.4,2.3],[5.5,2.45],[5.15,2.5],[5,2.75],[4.9,2.85],[4.75,2.8],[5.1,2.8],[5.2,2.6],[5.35,2.65],[5.45,2.85],[5.6,2.75],[5.75,2.75],[5.85,2.6],[5.5,2.2],[5.45,2.05],[5.9,2.85],
[2.35,.75],[2.5,.8],[2.55,1.05],[2.7,.95],[2.75,1.15],[2.85,1.05],[2.95,.95],[3.05,.6],[3.1,.95],[3.15,1.05],[3.25,.75],[3.3,.85],[3.35,.95],[3.4,.7],[3.45,.8],[3.5,.95],[3.55,.9],[2.95,1.25],[3.1,1.3],[3.15,1.55],[3.25,1.35],[3.35,1.6],[3.4,1.4],[3.5,1.5],[3.6,1.35],[3.7,1.5],[3.75,1.65],[3.5,1.75],[3.3,1.8],[3,1.65],[2.8,1.6],[3.95,1.5],[4.05,1.65],[4.15,1.3],[4.25,1.5],[4.25,1.65],[4.45,1.7],[4.5,1.85],[4.6,1.65],[4.7,1.7],[4.8,1.85],[4.9,2],[5,2],[4.85,2.15],[4.65,2.05],[4.4,2.15],[4.25,2.05],[4.05,2.25],[3.95,2.35],[4.2,2.4],[4.35,2.25],[4.55,2.35],[4.65,2.3],[4.95,2.35],[5.05,2.45],[5.1,2.3],[5.3,2.4],[5.4,2.5],[4.55,2.65],[4.7,2.7],[4.85,2.65],[4.95,2.55],[5.25,2.75],[5.3,2.9],[5.55,2.6],[5.65,2.5]];

const ctla4Lck = [[6.15,5.29],[5.13,4.4],[5.99,4.31],[4.62,4.07],[4.79,3.99],[4.9,3.97],[4.78,3.81],[5.02,3.75],[5.91,4.02],[5.86,3.87],[5.97,3.79],[5.75,3.58],[5.18,3.58],[4.04,3.6],[3.94,3.31],[4.59,3.39],[4.41,3.28],[4.5,3.2],[4.26,3.16],[4.3,3.08],[5.34,3.41],[5.31,3.13],[5.62,2.84],[5.13,2.74],[1.56,2.5],[4.77,2.17],[5.08,2.06],[5.75,1.58],[5.15,1.37],[4.65,1.26],[4.48,1.2],[4.5,.97],[4.26,.84],[3.73,.65],[.93,1.72],[.61,1.48],[1.17,1.12],[1.01,.93],[1.29,.97],[1.29,.88],[.4,.67],[.46,.3],[.28,.26],[.69,.08],[.93,.25],[1.35,.04],[1.96,.05],[1.69,.19],[1.76,.34],[1.13,.52],[1.17,.38],[1.33,.52],[1.44,.39],[1.6,.75],[1.7,.7],[1.85,.72],[1.9,.6],[1.8,.6],[2.05,.48],[2.15,.48],[2.25,.5],[2.3,.33],[2.45,.28],[2.5,.42],[2.6,.28],[2.75,.26],[2.85,.26],[3,.28],[3.05,.3],[2.65,.7],[2.4,.6],[2.35,.72],[2.25,.9],[2.15,1],[2.05,1.15],[1.9,1.05],[1.85,1.3],[1.95,1.1],[2.3,1.2],[2.4,1.3],[2.6,1.05],[2.85,.95],[2.95,1.05],[3,.9],[3.05,1.15],[3.15,1.3],[3.4,.9],[3.45,1.05],[3.35,1.25],[3.55,1.15],[2,1.65],[2.1,1.7],[1.75,1.65],[1.65,1.7],[1.85,1.8],[1.95,1.85],[2,1.75],[2.3,1.8],[2.35,1.6],[2.45,1.6],[2.5,1.9],[2.6,1.85],[2.75,1.7],[2.85,1.9],[2.95,1.75],[3.05,1.85],[3.15,1.55],[3.25,1.65],[3.35,1.7],[3.45,1.55],[3.6,1.5],[3.7,1.4],[3.75,1.7],[3.85,1.85],[4,1.8],[4.15,1.85],[4.3,1.85],[4.35,1.55],[4.25,1.55],[2.4,2.5],[2.45,2.65],[2.55,2.6],[2.45,2.3],[2.65,2.3],[2.75,2.35],[2.75,2.8],[2.95,2.7],[3.1,2.55],[3.25,2.6],[2.7,2.1],[2.85,2.1],[2.95,2.15],[3.05,2.3],[3.2,2.45],[3.3,2.1],[3.4,2.2],[3.5,2],[3.6,2.15],[3.25,2.8],[3.4,2.65],[3.5,2.5],[3.55,2.35],[3.65,2.8],[3.75,2.6],[3.85,2.35],[3.95,2.1],[4.05,2],[4.15,2.3],[4.25,2.1],[4.3,2.25],[3.7,3.05],[3.85,3.05],[3.6,3],[3.9,2.75],[4.1,2.8],[4.2,2.65],[4.35,2.55],[4.5,2.85],[4.65,2.7],[4.8,2.95],[4.95,3],[5.05,2.9],[2.9,2.4],
[1.9,.95],[2,1.05],[2.05,.95],[2.15,.75],[2.25,.7],[2.35,.55],[2.45,.5],[2.55,.75],[2.7,.85],[2.75,.6],[2.85,1.15],[2.9,.75],[3,1.25],[3.05,1],[3.15,1.05],[3.2,1.2],[3.3,.85],[2.5,1.15],[2.65,1.25],[2.75,1.1],[2.5,1.4],[2.35,1.45],[2.2,1.55],[2.65,1.6],[2.8,1.45],[2.95,1.55],[3.05,1.6],[3.1,1.75],[3.2,1.9],[3.3,1.85],[3.4,1.75],[3.5,1.75],[3.55,1.6],[3.65,1.65],[3.7,1.9],[3.8,1.55],[3.9,1.6],[3.35,2],[3.45,2.1],[3.55,2.05],[3.65,2.25],[3.75,2.05],[3.85,2.15],[3.9,2.5],[4,2.45],[4.05,2.6],[4.15,2.1],[3.45,2.4],[3.3,2.45],[3.15,2.2],[3.6,2.5],[3.7,2.4],[3.75,2.75],[3.55,2.7],[3.35,2.55],[3.05,2.1],[4.35,2.85],[4.2,3],[4.1,2.5],[4.25,2.45],[2.55,2.15]];

// smooth curves: [x, fit, lower, upper]
const fitPdcd1Cd3d = [[.07,.34,-.11,.8],[1,.32,.12,.52],[1.73,.47,.34,.6],[2.6,.73,.62,.84],[3.37,1.13,1.04,1.22],[4.12,1.52,1.43,1.61],[4.87,2.18,2.08,2.28],[5.75,2.73,2.62,2.84],[6.38,3.18,3.03,3.33],[7.14,3.71,3.46,3.96],[8.4,4.67,3.98,5.1]];
const fitPdcd1Cd3e = [[.4,.5,.17,.89],[1.02,.45,.29,.63],[1.63,.52,.41,.65],[2.53,.78,.69,.87],[3.2,1.04,.95,1.13],[3.98,1.39,1.28,1.5],[4.54,1.83,1.73,1.93],[5.1,2.35,2.24,2.46],[5.54,2.79,2.68,2.9],[6.32,3.45,3.27,3.63],[6.99,3.93,3.63,4.23],[7.8,4.45,3.91,4.85]];
const fitPdcd1Lck = [[.29,.3,-.25,.89],[.54,.36,.02,.72],[.98,.47,.26,.68],[1.6,.67,.53,.81],[2.13,.91,.79,1.03],[2.75,1.11,.99,1.23],[3.11,1.39,1.25,1.53],[3.46,1.83,1.7,1.96],[3.91,2.22,2.09,2.35],[4.44,2.62,2.48,2.76],[4.97,3.01,2.81,3.21],[5.5,3.49,3.17,3.81],[6.15,4.06,3.53,4.58]];
const fitCd274Cd3d = [[.07,1.11,.32,2.11],[.98,1.07,.66,1.58],[1.73,1.14,.88,1.5],[2.62,1.41,1.14,1.7],[3.37,1.68,1.44,1.9],[3.81,1.85,1.66,2.1],[4.25,2.37,2.05,2.55],[4.75,2.73,2.4,2.88],[5.38,2.85,2.55,3.03],[6.38,2.88,2.62,3.13],[7.39,2.83,2.21,3.44],[8.4,2.64,1.19,4.08]];
const fitCd274Cd3e = [[.4,1.19,.37,2.03],[.96,1.14,.62,1.7],[1.74,1.21,.88,1.5],[2.64,1.5,1.19,1.8],[3.53,1.8,1.6,2],[3.98,2.11,1.85,2.37],[4.54,2.62,2.42,2.78],[5.21,2.93,2.67,3.18],[6.1,3.16,2.83,3.49],[7,3.34,2.73,3.95],[7.8,3.5,2.32,4.65]];
const fitCd274Lck = [[.29,2.37,1.24,3.49],[.71,1.85,1.19,2.52],[1.16,1.55,1.09,2.01],[1.69,1.37,1.07,1.7],[2.13,1.5,1.19,1.8],[2.67,1.8,1.5,2.11],[3.2,2.21,1.96,2.47],[3.73,2.52,2.26,2.73],[4.44,2.78,2.52,3.08],[5.15,2.93,2.6,3.34],[6.15,3.41,2.37,4.42]];
const fitCtla4Cd3d = [[.07,.42,.08,.82],[.73,.44,.25,.63],[1.48,.57,.44,.7],[2.36,.76,.66,.86],[3.12,1.05,.96,1.14],[3.74,1.39,1.3,1.48],[4.37,1.94,1.85,2.03],[5.13,2.44,2.35,2.53],[5.88,2.78,2.67,2.89],[6.63,3.28,3.12,3.44],[7.39,3.92,3.6,4.25],[8.37,4.76,4.21,5.22]];
const fitCtla4Cd3e = [[.4,.38,.02,.73],[1.07,.5,.32,.68],[1.85,.72,.61,.83],[2.75,1.01,.93,1.09],[3.53,1.39,1.3,1.48],[4.31,1.89,1.79,1.99],[5.1,2.36,2.26,2.46],[5.88,2.95,2.82,3.08],[6.55,3.45,3.22,3.68],[7.8,4.59,4.08,4.97]];
const fitCtla4Lck = [[.29,.57,0,1.16],[.8,.66,.38,.94],[1.33,.76,.6,.92],[2.04,1.05,.92,1.18],[2.66,1.35,1.22,1.48],[3.1,1.68,1.55,1.81],[3.55,2.06,1.93,2.19],[4.08,2.36,2.24,2.48],[4.61,2.78,2.62,2.94],[5.15,3.12,2.9,3.34],[5.68,3.58,3.2,3.94],[6.15,4.04,3.49,4.56]];

const scatterTable = [pdcd1Cd3d,pdcd1Cd3e,pdcd1Lck,cd274Cd3d,cd274Cd3e,cd274Lck,ctla4Cd3d,ctla4Cd3e,ctla4Lck];
const fitTable = [fitPdcd1Cd3d,fitPdcd1Cd3e,fitPdcd1Lck,fitCd274Cd3d,fitCd274Cd3e,fitCd274Lck,fitCtla4Cd3d,fitCtla4Cd3e,fitCtla4Lck];

const colLeft = [55,306,556.5], panelW = 242;
const rowTop = [23.7,265.7,507.3], panelH = 233;
const chart = document.getElementById("chart");
const rightInset = [6,7,5.6];

function add(html, style, cls){
  const d=document.createElement("div"); d.className=cls; d.innerHTML=html; Object.assign(d.style,style); chart.appendChild(d);
}
columnGenes.forEach((g,c)=>add(g,{left:colLeft[c]+"px",top:"0.5px",width:panelW+"px",height:(rowTop[0]-0.5)+"px"},"strip"));
rowGenes.forEach((g,r)=>add(`<span>${g}</span>`,{left:"32px",top:rowTop[r]+"px",width:"23.5px",height:panelH+"px"},"strip side"));

rowGenes.forEach((_,r)=>columnGenes.forEach((_,c)=>{
  const i=r*3+c, ml=c===0?55:12, mb=r===2?28:1, mt=1, mr=1;
  const marks=[
    Plot.ruleX(xMinor[c],{stroke:"#efefef",strokeWidth:.6}),
    Plot.ruleY(yMinor[r],{stroke:"#efefef",strokeWidth:.6}),
    Plot.ruleX(xTicks[c],{stroke:"#ebebeb",strokeWidth:1.2}),
    Plot.ruleY(yTicks[r],{stroke:"#ebebeb",strokeWidth:1.2}),
    Plot.dot(scatterTable[i],{x:d=>d[0],y:d=>d[1],r:2.9,fill:"#000",stroke:"none"}),
    Plot.areaY(fitTable[i],{x:d=>d[0],y1:d=>d[2],y2:d=>d[3],fill:"#999",fillOpacity:.42,curve:"monotone-x"}),
    Plot.lineY(fitTable[i],{x:d=>d[0],y:d=>d[1],stroke:"#0f68ec",strokeWidth:2.5,curve:"monotone-x"}),
    Plot.frame({stroke:"#6e6e6e",strokeWidth:1.2}),
    Plot.text([corLabels[i]],{frameAnchor:"top-right",dx:-rightInset[c],dy:13,lineAnchor:"middle",fill:"#f00",fontSize:12.8,fontFamily:"Liberation Sans"}),
    Plot.text([pLabels[i]],{frameAnchor:"top-right",dx:-rightInset[c],dy:32,lineAnchor:"middle",fill:"#f00",fontSize:12.8,fontFamily:"Liberation Sans"})
  ];
  if(r===2) marks.push(Plot.axisX({ticks:xTicks[c],tickFormat:"d",tickSize:3,tickPadding:3,label:null,fontSize:12,stroke:"#444"}));
  if(c===0) marks.push(Plot.axisY({ticks:yTicks[r],tickFormat:"d",tickSize:3,tickPadding:3,label:null,dx:-23,fontSize:12,stroke:"#444"}));
  const svg=Plot.plot({
    width:panelW+ml+mr,height:panelH+mt+mb,marginLeft:ml,marginRight:mr,marginTop:mt,marginBottom:mb,
    x:{domain:xDomains[c],axis:r===2?undefined:null},
    y:{domain:yDomains[r],axis:c===0?undefined:null},
    style:{background:"transparent",overflow:"visible",fontFamily:"Liberation Sans",fontSize:"12px",color:"#4d4d4d",maxWidth:"none"},
    marks
  });
  Object.assign(svg.style,{position:"absolute",left:(colLeft[c]-ml)+"px",top:(rowTop[r]-mt)+"px"});
  chart.appendChild(svg);
}));

add("Expression Level (log2 TPM)",{left:"427px",top:"767.5px",transform:"translate(-50%,-50%)"},"title");
add("Expression Level (log2 TPM)",{left:"8px",top:"382px",transform:"translate(-50%,-50%) rotate(-90deg)"},"title");
</script></body></html>
